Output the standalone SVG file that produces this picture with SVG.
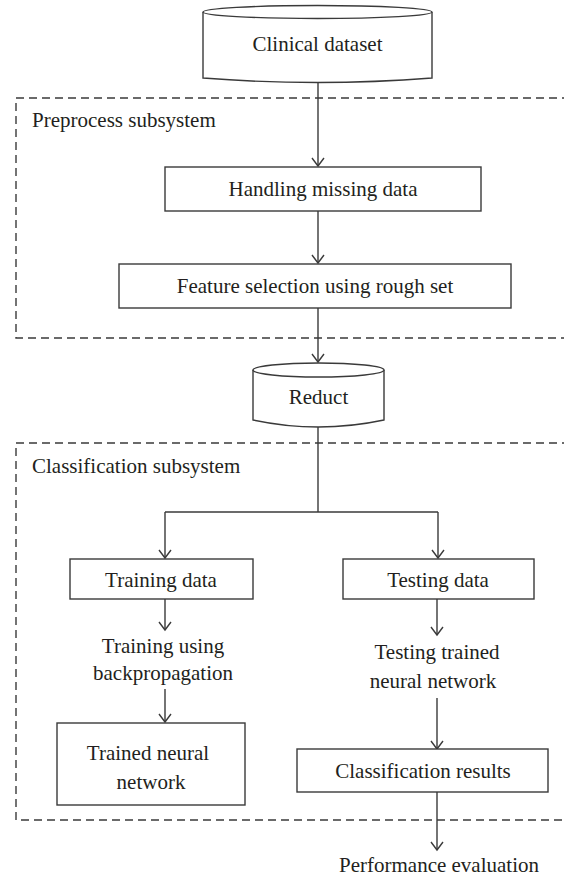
<svg xmlns="http://www.w3.org/2000/svg" width="564" height="877" viewBox="0 0 564 877">
<style>
.sh{fill:#fff;stroke:#3a3a3a;stroke-width:1.4}
.ln{fill:none;stroke:#3a3a3a;stroke-width:1.4}
.ds{fill:none;stroke:#3a3a3a;stroke-width:1.4;stroke-dasharray:8 5}
.t{font-family:'Liberation Serif','DejaVu Serif',serif;font-size:21px;fill:#231f20}
.c{text-anchor:middle}
</style>
<defs>
<marker id="ah" markerWidth="12" markerHeight="14" refX="10" refY="7" orient="auto" markerUnits="userSpaceOnUse" viewBox="0 0 12 14">
<path d="M2,1 L10,7 L2,13" fill="none" stroke="#3a3a3a" stroke-width="1.4"/>
</marker>
</defs>
<rect width="564" height="877" fill="#fff"/>
<g id="preprocess-subsystem">
<path class="ds" d="M570,98 H16 V338 H570"/>
<text class="t" x="32" y="127">Preprocess subsystem</text>
</g>
<g id="classification-subsystem">
<path class="ds" d="M570,443 H16 V820 H570"/>
<text class="t" x="32" y="473">Classification subsystem</text>
</g>
<g id="connectors">
<line class="ln" x1="318" y1="82" x2="318" y2="166" marker-end="url(#ah)"/>
<line class="ln" x1="318" y1="211" x2="318" y2="263" marker-end="url(#ah)"/>
<line class="ln" x1="318" y1="308" x2="318" y2="362" marker-end="url(#ah)"/>
<polyline class="ln" points="318,427 318,512"/>
<polyline class="ln" points="165,512 438,512"/>
<line class="ln" x1="165" y1="512" x2="165" y2="558" marker-end="url(#ah)"/>
<line class="ln" x1="438" y1="512" x2="438" y2="558" marker-end="url(#ah)"/>
<line class="ln" x1="165" y1="599" x2="165" y2="630" marker-end="url(#ah)"/>
<line class="ln" x1="165" y1="689" x2="165" y2="722" marker-end="url(#ah)"/>
<line class="ln" x1="437" y1="599" x2="437" y2="635" marker-end="url(#ah)"/>
<line class="ln" x1="437" y1="698" x2="437" y2="749" marker-end="url(#ah)"/>
<line class="ln" x1="437" y1="792" x2="437" y2="850" marker-end="url(#ah)"/>
</g>
<g id="clinical-dataset">
<path class="sh" d="M203,12 L203,78 Q317.5,87 432,78 L432,12"/>
<ellipse class="sh" cx="317.5" cy="12" rx="114.5" ry="6.5"/>
<text class="t c" x="317.5" y="51">Clinical dataset</text>
</g>
<g id="handling-missing-data">
<rect class="sh" x="165" y="167" width="316" height="44"/>
<text class="t c" x="323" y="196">Handling missing data</text>
</g>
<g id="feature-selection">
<rect class="sh" x="119" y="264" width="392" height="44"/>
<text class="t c" x="315" y="293">Feature selection using rough set</text>
</g>
<g id="reduct">
<path class="sh" d="M253,370 L253,420 Q318.5,434 384,420 L384,370"/>
<ellipse class="sh" cx="318.5" cy="370" rx="65.5" ry="7"/>
<text class="t c" x="318.5" y="404">Reduct</text>
</g>
<g id="training-data">
<rect class="sh" x="70" y="559" width="183" height="40"/>
<text class="t c" x="161" y="587">Training data</text>
</g>
<g id="testing-data">
<rect class="sh" x="343" y="559" width="191" height="40"/>
<text class="t c" x="438" y="587">Testing data</text>
</g>
<g id="training-backprop">
<text class="t c" x="163" y="653">Training using</text>
<text class="t c" x="163" y="680">backpropagation</text>
</g>
<g id="trained-network">
<rect class="sh" x="57" y="723" width="188" height="82"/>
<text class="t c" x="148" y="760">Trained neural</text>
<text class="t c" x="151" y="789">network</text>
</g>
<g id="testing-trained">
<text class="t c" x="437" y="659">Testing trained</text>
<text class="t c" x="433" y="688">neural network</text>
</g>
<g id="classification-results">
<rect class="sh" x="297" y="749" width="251" height="43"/>
<text class="t c" x="423" y="778">Classification results</text>
</g>
<g id="performance-evaluation">
<text class="t c" x="439" y="872">Performance evaluation</text>
</g>
</svg>
